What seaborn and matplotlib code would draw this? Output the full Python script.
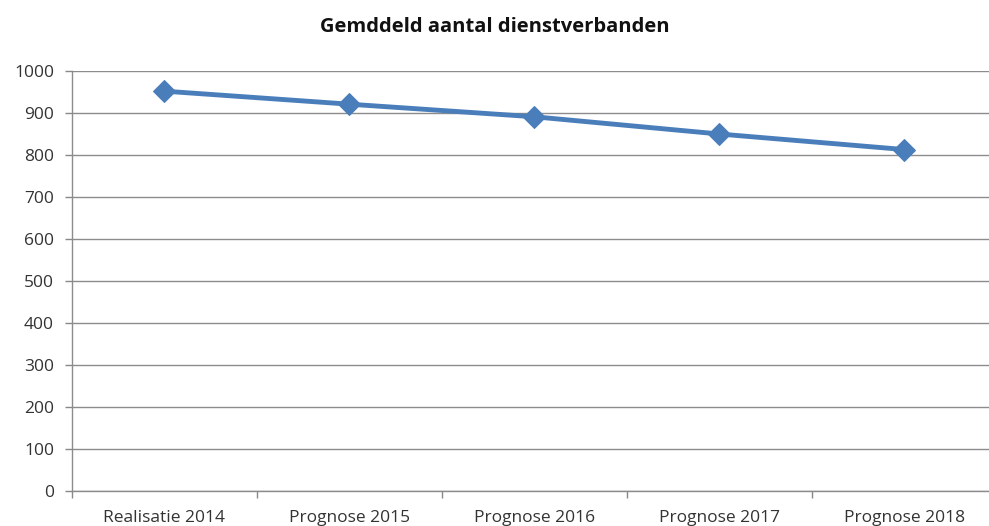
import matplotlib
matplotlib.use("Agg")
import matplotlib.pyplot as plt
import seaborn as sns
import pandas as pd
from matplotlib.ticker import FixedLocator, MultipleLocator

sns.set_theme(style="white")
plt.rcParams['font.family'] = ['Open Sans', 'DejaVu Sans']

# Data
categories = ["Realisatie 2014", "Prognose 2015", "Prognose 2016", "Prognose 2017", "Prognose 2018"]
values = [952, 921, 891, 850, 813]

df = pd.DataFrame({"categorie": categories, "aantal": values})
df["pos"] = range(len(categories))

fig = plt.figure(figsize=(9.89, 5.26), dpi=100)
ax = fig.add_axes([0.0728, 0.0665, 0.935, 0.7985])

sns.lineplot(data=df, x="pos", y="aantal", ax=ax, color="#4A7EBB",
             linewidth=3.5, marker="D", markersize=11, markeredgecolor="#4A7EBB",
             sort=False)

ax.set_xlim(-0.5, len(categories) - 0.5)
ax.set_ylim(0, 1000)
ax.yaxis.set_major_locator(MultipleLocator(100))
ax.set_xticks(df["pos"])
ax.set_xticklabels(categories)
ax.tick_params(axis="x", which="major", bottom=True, length=0, pad=14,
               labelsize=12.5, labelcolor="#333333")
ax.xaxis.set_minor_locator(FixedLocator([i + 0.5 for i in range(-1, len(categories))]))
ax.tick_params(axis="x", which="minor", bottom=True, length=5, width=1,
               color="#888888", direction="out")
ax.tick_params(axis="y", left=True, length=5, width=1, color="#888888",
               labelsize=12.5, labelcolor="#333333", pad=8)

ax.grid(axis="y", color="#8c8c8c", linewidth=1)
ax.set_axisbelow(True)
for side in ["top", "right"]:
    ax.spines[side].set_visible(False)
for side in ["left", "bottom"]:
    ax.spines[side].set_color("#8c8c8c")
    ax.spines[side].set_linewidth(1)

ax.set_xlabel("")
ax.set_ylabel("")
fig.text(0.5, 0.949, "Gemddeld aantal dienstverbanden", ha="center", va="center",
         fontsize=14.5, fontweight="bold", color="#111111")

fig.savefig("out.png", dpi=100)
